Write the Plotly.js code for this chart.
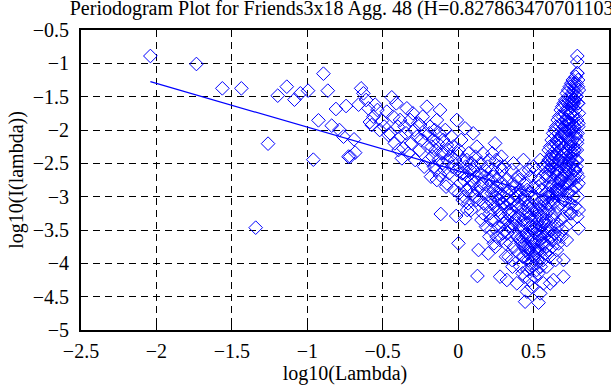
<!DOCTYPE html>
<html>
<head>
<meta charset="utf-8">
<script src="https://cdn.plot.ly/plotly-3.0.1.min.js"></script>
<style>html,body{margin:0;padding:0;background:#fff;}#chart{width:611px;height:385px;}</style>
</head>
<body>
<div id="chart"></div>
<script>
// Low-frequency (sparse) periodogram points
const xLow = [-2.04,-1.735,-1.563,-1.437,-1.342,-1.26,-1.196,-1.136,-1.085,-1.046,-0.995,-0.96,-0.926,-0.893,-0.864,-0.838,-0.81,-0.787,-0.76,-0.743,-0.727];
const yLow = [-0.89,-1.01,-1.375,-1.375,-3.465,-2.205,-1.485,-1.35,-1.545,-1.45,-1.41,-2.445,-1.855,-1.155,-1.41,-1.935,-1.685,-2.0,-2.1,-1.64,-2.4];

const xB1 = [-0.716,-0.69,-0.683,-0.66,-0.643,-0.628,-0.61,-0.595,-0.585,-0.573,-0.562,-0.55,-0.535,-0.52,-0.505,-0.49,-0.473,-0.462,-0.451,-0.44];
const yB1 = [-2.40,-2.14,-2.34,-1.62,-1.375,-1.45,-1.55,-1.675,-1.88,-1.925,-1.80,-1.62,-1.70,-2.00,-1.86,-1.95,-1.725,-2.075,-2.05,-1.51];

const xB2 = [-0.43,-0.42,-0.41,-0.40,-0.395,-0.385,-0.38,-0.373,-0.363,-0.355,-0.345,-0.34,-0.33,-0.318,-0.31,-0.30,-0.29,-0.285,-0.274,-0.265,-0.255,-0.252,-0.245,-0.235,-0.225,-0.215,-0.207,-0.20];
const yB2 = [-1.80,-2.20,-1.60,-1.95,-2.30,-1.85,-2.10,-2.425,-2.275,-1.95,-2.05,-1.675,-2.35,-1.85,-2.20,-1.75,-2.00,-2.45,-2.10,-1.90,-2.30,-1.925,-2.15,-1.80,-2.55,-2.05,-1.65,-2.25];

const xB3 = [-0.195,-0.19,-0.186,-0.18,-0.175,-0.17,-0.164,-0.16,-0.155,-0.15,
  -0.145,-0.141,-0.141,-0.135,-0.13,-0.125,-0.12,-0.12,-0.115,-0.11,
  -0.105,-0.1,-0.097,-0.09,-0.085,-0.08,-0.075,-0.075,-0.07,-0.065,
  -0.06,-0.05,-0.045,-0.04,-0.031,-0.025,-0.02,-0.013,-0.009,-0.009,-0.005];
const yB3 = [-2.45,-2.05,-1.95,-2.70,-2.25,-2.40,-2.15,-2.55,-2.00,-2.30,
  -2.60,-1.85,-2.75,-2.20,-2.45,-2.05,-1.70,-2.675,-3.26,-2.35,
  -2.50,-2.15,-2.35,-2.60,-2.00,-2.85,-2.225,-2.80,-2.45,-2.30,
  -2.65,-2.40,-2.10,-2.55,-2.25,-2.90,-2.45,-3.29,-1.85,-2.60,-2.35];

const xB4 = [0.002,0.005,0.01,0.015,0.02,0.025,0.03,0.035,0.04,0.046,
  0.046,0.05,0.055,0.058,0.062,0.066,0.07,0.075,0.08,0.085,
  0.09,0.095,0.10,0.10,0.105,0.11,0.115,0.12,0.124,0.128,
  0.13,0.135,0.14,0.145,0.15,0.155,0.16,0.165,0.17,0.175,
  0.18,0.185,0.19,0.195,0.20,0.20,0.005,0.03,0.06,0.09,
  0.12,0.15,0.18,0.04,0.11,0.165];
const yB4 = [-3.70,-2.30,-2.55,-2.80,-2.15,-2.65,-3.05,-2.45,-2.75,-1.975,
  -3.325,-2.55,-2.90,-2.45,-2.70,-3.10,-2.35,-2.85,-2.60,-3.20,
  -2.50,-2.95,-2.05,-2.60,-2.80,-3.00,-2.40,-2.70,-2.25,-4.19,
  -2.90,-3.80,-2.65,-3.05,-2.50,-3.35,-2.80,-2.35,-3.10,-2.70,
  -2.95,-3.45,-3.15,-2.55,-3.85,-2.75,-2.95,-2.65,-3.20,-2.75,
  -3.05,-2.85,-2.60,-3.00,-2.55,-3.25];

const xB5 = [0.205,0.21,0.215,0.22,0.225,0.23,0.235,0.24,0.245,0.25,
  0.255,0.26,0.265,0.27,0.275,0.278,0.28,0.285,0.29,0.295,
  0.30,0.305,0.31,0.315,0.32,0.325,0.33,0.335,0.34,0.345,
  0.35,0.355,0.36,0.365,0.37,0.375,0.38,0.385,0.389,0.395,
  0.2025,0.2125,0.2225,0.2325,0.2425,0.2525,0.2625,0.2725,0.2825,0.2925,
  0.3025,0.3125,0.3225,0.3325,0.3425,0.3525,0.3625,0.3725,0.3825,0.3925,
  0.207,0.227,0.247,0.267,0.287,0.307,0.327,0.347,0.367,0.387,
  0.217,0.237,0.257,0.277,0.297,0.317,0.337,0.357,0.377,0.397,
  0.323,0.36];
const yB5 = [-2.45,-3.25,-2.75,-3.50,-2.60,-3.10,-2.90,-3.35,-2.20,-3.00,
  -3.60,-2.75,-3.20,-3.45,-2.55,-4.20,-2.95,-3.30,-2.60,-3.55,
  -3.40,-2.85,-3.15,-3.70,-2.75,-3.35,-3.05,-3.90,-2.90,-3.70,
  -3.20,-2.60,-3.40,-3.05,-3.75,-2.85,-3.55,-3.15,-4.30,-2.70,
  -2.85,-3.05,-2.95,-2.70,-3.15,-2.45,-2.95,-3.05,-3.25,-2.80,
  -3.00,-3.50,-2.95,-3.25,-3.10,-3.45,-2.80,-3.30,-2.95,-3.60,
  -3.60,-2.35,-3.75,-3.05,-2.40,-2.55,-3.55,-3.25,-2.50,-3.40,
  -3.35,-3.70,-2.85,-3.65,-3.10,-3.90,-3.45,-3.95,-3.35,-3.00,
  -4.25,-4.05];

const xB6 = [0.400,0.405,0.410,0.415,0.420,0.425,0.430,0.435,0.440,0.445,
  0.450,0.455,0.460,0.465,0.470,0.475,0.480,0.485,0.490,0.495,
  0.500,0.505,0.510,0.515,0.520,0.525,0.530,0.535,0.540,0.545,
  0.550,0.555,0.560,0.565,0.570,0.575,0.580,0.585,0.590,0.595,0.600,
  0.4025,0.4075,0.4125,0.4175,0.4225,0.4275,0.4325,0.4375,0.4425,0.4475,
  0.4525,0.4575,0.4625,0.4675,0.4725,0.4775,0.4825,0.4875,0.4925,0.4975,
  0.5025,0.5075,0.5125,0.5175,0.5225,0.5275,0.5325,0.5375,0.5425,0.5475,
  0.5525,0.5575,0.5625,0.5675,0.5725,0.5775,0.5825,0.5875,0.5925,0.5975,
  0.403,0.411,0.419,0.427,0.435,0.443,0.451,0.459,0.467,0.475,
  0.483,0.491,0.499,0.507,0.515,0.523,0.531,0.539,0.547,0.555,
  0.563,0.571,0.579,0.587,0.595,
  0.433,0.444,0.456,0.488,0.52,0.533,0.544,0.544,0.588,0.50,0.47,0.565];
const yB6 = [-3.10,-2.75,-3.45,-2.90,-3.60,-3.20,-2.65,-3.75,-3.05,-3.40,
  -2.80,-3.55,-3.15,-3.85,-2.95,-3.30,-2.70,-3.65,-3.00,-3.50,
  -2.85,-3.80,-3.20,-2.60,-3.45,-3.95,-3.10,-2.75,-3.60,-3.30,
  -2.90,-3.70,-3.05,-2.55,-3.40,-3.85,-3.15,-2.70,-3.50,-3.00,-2.45,
  -3.30,-3.65,-2.95,-3.50,-3.15,-3.90,-3.35,-3.00,-3.70,-3.25,
  -3.55,-2.90,-3.40,-3.75,-3.10,-3.60,-3.35,-4.00,-3.20,-3.45,
  -3.70,-3.05,-3.55,-3.30,-3.80,-3.50,-2.85,-3.35,-3.65,-3.15,
  -3.45,-2.80,-3.25,-3.55,-3.05,-2.65,-3.35,-2.95,-2.50,-3.10,
  -3.85,-4.05,-3.70,-4.15,-3.90,-4.20,-3.80,-4.10,-3.95,-4.25,
  -3.75,-4.05,-3.90,-4.20,-3.85,-4.00,-4.15,-3.80,-4.05,-3.70,
  -3.95,-3.60,-3.85,-3.75,-3.55,
  -2.45,-4.575,-4.425,-4.35,-4.10,-4.59,-4.45,-2.45,-4.05,-2.55,-2.60,-4.30];

const xB7 = [0.600,0.605,0.610,0.615,0.620,0.625,0.630,0.635,0.640,0.645,
  0.650,0.655,0.660,0.665,0.670,0.675,0.680,0.685,0.690,0.695,
  0.700,0.705,0.710,0.715,0.720,0.725,0.730,0.735,0.740,0.745,
  0.750,0.755,0.760,0.765,0.770,0.775,0.780,0.785,0.790,0.795,0.800,
  0.6025,0.6075,0.6125,0.6175,0.6225,0.6275,0.6325,0.6375,0.6425,0.6475,
  0.6525,0.6575,0.6625,0.6675,0.6725,0.6775,0.6825,0.6875,0.6925,0.6975,
  0.7025,0.7075,0.7125,0.7175,0.7225,0.7275,0.7325,0.7375,0.7425,0.7475,
  0.7525,0.7575,0.7625,0.7675,0.7725,0.7775,0.7825,0.7875,0.7925,0.7975,
  0.601,0.607,0.613,0.619,0.625,0.631,0.637,0.643,0.649,0.655,
  0.661,0.667,0.673,0.679,0.685,0.691,0.697,0.703,0.709,0.715,
  0.721,0.727,0.733,0.739,0.745,0.751,0.757,0.763,0.769,0.775,
  0.781,0.787,0.793,0.799,
  0.700,0.704,0.708,0.712,0.716,0.720,0.724,0.728,0.732,0.736,
  0.740,0.744,0.748,0.752,0.756,0.760,0.764,0.768,0.772,0.776,
  0.780,0.784,0.788,0.792,0.796,0.800,
  0.603,0.611,0.619,0.627,0.635,0.643,0.651,0.659,0.667,0.675,
  0.683,0.691,0.699,0.707,0.715,0.723,0.731,0.739,0.747,0.755,
  0.763,0.771,0.779,0.787,0.795,0.606,0.626,0.646,0.666,0.686,
  0.61,0.632,0.654,0.698,0.698,0.72,0.743,0.798,0.79,0.79,0.79,0.79];
const yB7 = [-2.30,-2.45,-2.25,-2.40,-2.15,-2.35,-2.05,-2.25,-2.00,-2.20,
  -1.95,-2.15,-1.85,-2.05,-1.80,-1.95,-1.70,-1.90,-1.65,-1.80,
  -1.60,-1.75,-1.55,-1.70,-1.45,-1.60,-1.40,-1.55,-1.35,-1.50,
  -1.30,-1.45,-1.25,-1.40,-1.30,-1.35,-1.20,-1.30,-1.15,-1.25,-1.40,
  -2.70,-2.95,-2.60,-2.85,-2.50,-3.05,-2.45,-2.75,-2.40,-2.90,
  -2.35,-2.65,-2.25,-2.80,-2.20,-2.55,-2.10,-2.70,-2.05,-2.45,
  -2.00,-2.60,-1.95,-2.35,-1.85,-2.50,-1.80,-2.25,-1.75,-2.40,
  -1.65,-2.15,-1.60,-2.30,-1.55,-2.05,-1.50,-2.20,-1.60,-1.90,
  -3.20,-3.50,-3.00,-3.65,-3.30,-3.10,-3.55,-3.25,-2.95,-3.45,
  -3.15,-3.60,-2.90,-3.35,-3.10,-3.50,-2.85,-3.30,-3.05,-3.45,
  -2.80,-3.20,-2.95,-3.10,-2.75,-3.25,-2.90,-3.00,-2.70,-3.15,
  -2.85,-2.65,-3.00,-3.20,
  -2.25,-1.95,-2.55,-2.10,-1.85,-2.30,-2.00,-1.70,-2.45,-1.90,
  -2.15,-1.75,-2.35,-1.60,-2.00,-1.80,-2.25,-1.55,-1.95,-1.70,
  -2.10,-1.50,-1.85,-2.05,-1.60,-1.75,
  -2.60,-2.80,-2.55,-2.95,-2.65,-2.50,-2.85,-2.60,-2.45,-2.75,
  -2.40,-2.90,-2.35,-2.70,-2.55,-2.30,-2.60,-2.45,-2.20,-2.50,
  -2.35,-2.60,-2.45,-2.30,-2.70,-3.90,-3.75,-3.95,-3.70,-3.60,
  -4.30,-4.25,-3.80,-3.95,-4.20,-3.65,-3.25,-3.475,-0.89,-0.98,-1.145,-3.30];

// Extra points filling the dense right arm
const xB8 = [0.652,0.658,0.664,0.672,0.678,0.684,0.692,0.698,0.706,0.712,
  0.718,0.726,0.732,0.738,0.746,0.752,0.758,0.766,0.772,0.778,
  0.784,0.79,0.796,0.662,0.676,0.694,0.708,0.722,0.736,0.75,
  0.764,0.776,0.788,0.798,0.742,0.756,0.768,0.782,0.794,0.73];
const yB8 = [-2.35,-2.6,-2.15,-2.45,-2.3,-2.75,-2.2,-2.5,-2.05,-2.65,
  -2.35,-2.1,-2.55,-2.0,-2.25,-1.9,-2.5,-1.95,-2.3,-1.8,
  -2.55,-2.15,-1.95,-2.9,-2.95,-3.05,-2.8,-2.95,-2.8,-2.65,
  -2.75,-2.6,-2.45,-2.8,-1.6,-1.55,-1.6,-1.45,-1.35,-1.9];

// Extra points filling the dense core near the minimum
const xB9 = [0.452,0.462,0.472,0.482,0.492,0.502,0.512,0.522,0.532,0.542,
  0.552,0.562,0.572,0.582,0.592,0.602,0.612,0.622,0.632,0.642];
const yB9 = [-3.6,-3.25,-3.8,-3.45,-3.15,-3.65,-3.9,-3.4,-3.75,-3.2,
  -3.55,-3.35,-3.7,-3.25,-3.5,-3.8,-3.45,-3.6,-3.35,-3.55];

// Least-squares fit line end points
const fitX = [-2.04, 0.787];
const fitY = [-1.275, -3.129];

const xTicks = [-2.5,-2,-1.5,-1,-0.5,0,0.5,1];
const yTicks = [-5,-4.5,-4,-3.5,-3,-2.5,-2,-1.5,-1,-0.5];

const allX = [].concat(xLow, xB1, xB2, xB3, xB4, xB5, xB6, xB7, xB8, xB9);
const allY = [].concat(yLow, yB1, yB2, yB3, yB4, yB5, yB6, yB7, yB8, yB9);

const font = {family: 'Liberation Serif', size: 20, color: '#000'};

const traces = [
  {x: allX, y: allY, type: 'scatter', mode: 'markers',
   marker: {symbol: 'diamond-open', size: 10.5, color: '#0000ff', line: {width: 1, color: '#0000ff'}},
   hoverinfo: 'skip'},
  {x: fitX, y: fitY, type: 'scatter', mode: 'lines',
   line: {color: '#0000ff', width: 1.2}, hoverinfo: 'skip'}
];

const axisCommon = {
  showline: true, linecolor: '#000', linewidth: 2, mirror: 'ticks',
  ticks: 'inside', ticklen: 5, tickwidth: 1, tickcolor: '#000',
  showgrid: true, gridcolor: '#000', gridwidth: 1, griddash: '7px,5px',
  zeroline: false, tickfont: font
};

const layout = {
  width: 611, height: 385,
  margin: {l: 81, r: 2, t: 30, b: 55, pad: 0},
  paper_bgcolor: '#fff', plot_bgcolor: '#fff',
  showlegend: false,
  font: font,
  title: {text: 'Periodogram Plot for Friends3x18 Agg. 48 (H=0.827863470701103)',
          font: font, xref: 'paper', x: 0.5, xanchor: 'center',
          yref: 'container', y: 0.978, yanchor: 'middle'},
  xaxis: Object.assign({}, axisCommon, {
    range: [-2.5, 1], tickvals: xTicks, ticktext: xTicks.map(v => String(v).replace('-', '\u2212')),
    ticklabelstandoff: 2,
    title: {text: 'log10(Lambda)', font: font, standoff: 6}
  }),
  yaxis: Object.assign({}, axisCommon, {
    range: [-5, -0.5], tickvals: yTicks, ticktext: yTicks.map(v => String(v).replace('-', '\u2212')),
    ticklabelstandoff: 6,
    title: {text: 'log10(I(lambda))', font: font, standoff: 4}
  })
};

Plotly.newPlot('chart', traces, layout, {staticPlot: true, displayModeBar: false});
</script>
</body>
</html>
